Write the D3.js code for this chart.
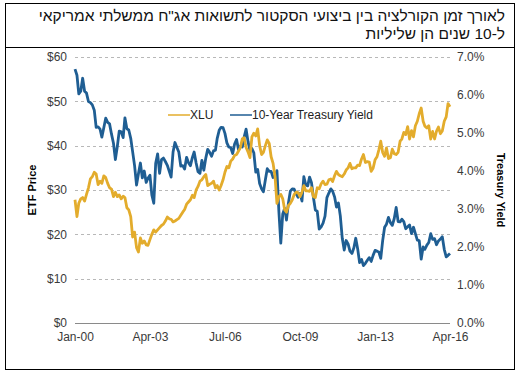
<!DOCTYPE html>
<html>
<head>
<meta charset="utf-8">
<script src="https://cdn.jsdelivr.net/npm/d3@7"></script>
<style>
  body { margin: 0; background: #fff; }
  text { font-family: "Liberation Sans", Arial, sans-serif; }
</style>
</head>
<body>
<script>
// monthly series, Jan 2000 .. Apr 2016
const startMonth = new Date(2000, 0, 1);

const xluPrice = [
  27.8, 24.0, 27.0, 28.0, 28.3, 27.5, 29.0, 30.5, 32.5, 33.0, 34.0, 33.6,
  31.2, 32.0, 31.5, 33.2, 32.8, 31.5, 30.5, 30.2, 28.5, 29.5, 28.5, 28.9,
  28.0, 28.6, 28.3, 26.0, 25.5, 24.0, 19.4, 20.5, 17.0, 16.0, 19.2, 18.0,
  18.5, 17.6, 17.5, 18.8, 20.0, 21.0, 20.5, 21.0, 21.5, 22.0, 22.3, 23.0,
  23.9, 23.5, 23.4, 22.8, 23.0, 23.3, 23.6, 24.3, 25.0, 25.6, 26.8, 27.3,
  27.8, 28.8, 28.3, 30.0, 30.8, 32.0, 32.3, 33.0, 33.5, 31.0, 31.3, 31.5,
  32.0, 30.5, 31.0, 30.0, 31.0, 32.3, 34.0, 35.3, 35.0, 36.5, 37.0, 37.8,
  38.0, 38.8, 39.5, 41.5, 41.8, 39.6, 38.6, 37.3, 42.0, 42.8, 42.2, 43.8,
  40.0, 38.0, 38.5, 40.0, 41.3, 40.5, 37.5, 36.0, 33.0, 27.0, 28.5, 29.0,
  28.0, 25.5, 25.0, 26.5, 27.0, 27.8, 29.0, 29.5, 29.4, 28.5, 29.5, 31.0,
  29.8, 29.8, 29.7, 30.5, 28.5, 28.3, 30.5, 30.3, 31.4, 32.0, 31.2, 31.3,
  32.3, 32.5, 31.9, 33.2, 34.2, 33.5, 33.2, 33.0, 33.6, 34.5, 35.0, 36.0,
  34.8, 35.0, 35.0, 35.6, 35.5, 37.0, 38.0, 36.2, 36.4, 36.3, 34.2, 34.9,
  36.8, 37.5, 39.0, 41.0, 38.5, 37.6, 39.5, 37.1, 37.3, 39.2, 38.2, 38.0,
  38.5, 41.0, 41.5, 43.0, 42.5, 44.3, 41.5, 43.4, 42.0, 44.5, 45.5, 47.2,
  48.5, 45.5, 44.4, 44.0, 44.5, 41.5, 43.2, 41.5, 43.3, 44.2, 42.7, 43.3,
  45.5, 46.5, 49.5, 48.8
];

const treasuryYield = [
  6.68, 6.52, 6.03, 6.10, 6.44, 6.10, 6.05, 5.83, 5.80, 5.74, 5.60, 5.15,
  5.16, 5.10, 4.89, 5.14, 5.39, 5.28, 5.24, 4.97, 4.73, 4.30, 4.65, 5.05,
  5.03, 4.88, 5.40, 5.11, 5.08, 4.86, 4.51, 4.14, 3.63, 3.93, 4.21, 3.82,
  4.00, 3.70, 3.81, 3.89, 3.37, 3.15, 4.20, 4.45, 3.94, 4.30, 4.34, 4.25,
  4.15, 3.99, 3.84, 4.50, 4.75, 4.62, 4.50, 4.13, 4.14, 4.05, 4.36, 4.22,
  4.14, 4.36, 4.50, 4.21, 3.98, 3.94, 4.28, 4.02, 4.34, 4.57, 4.49, 4.39,
  4.53, 4.55, 4.86, 5.07, 5.15, 5.14, 4.99, 4.74, 4.63, 4.61, 4.46, 4.71,
  4.83, 4.56, 4.65, 4.63, 4.89, 5.10, 4.78, 4.54, 4.59, 4.48, 3.97, 4.04,
  3.67, 3.53, 3.45, 3.77, 4.06, 3.99, 3.99, 3.83, 3.85, 4.01, 2.93, 2.10,
  2.87, 3.02, 2.71, 3.16, 3.47, 3.53, 3.52, 3.40, 3.31, 3.41, 3.21, 3.85,
  3.63, 3.61, 3.84, 3.69, 3.31, 2.97, 2.94, 2.47, 2.53, 2.63, 2.81, 3.30,
  3.42, 3.53, 3.47, 3.32, 3.05, 3.16, 2.82, 2.23, 1.92, 2.17, 2.08, 1.89,
  1.83, 1.98, 2.23, 1.95, 1.59, 1.67, 1.51, 1.57, 1.65, 1.72, 1.62, 1.78,
  1.91, 1.89, 1.87, 1.70, 2.16, 2.52, 2.60, 2.78, 2.64, 2.57, 2.75, 3.04,
  2.67, 2.66, 2.73, 2.67, 2.48, 2.53, 2.58, 2.35, 2.52, 2.35, 2.18, 2.17,
  1.68, 2.00, 1.94, 2.05, 2.12, 2.35, 2.20, 2.22, 2.06, 2.16, 2.21, 2.27,
  1.94, 1.74, 1.78, 1.83
];

const xTickLabels = ["Jan-00", "Apr-03", "Jul-06", "Oct-09", "Jan-13", "Apr-16"];
const leftTicks = [0, 10, 20, 30, 40, 50, 60];
const rightTicks = [0, 1, 2, 3, 4, 5, 6, 7];
const titleLines = [
  "לאורך זמן הקורלציה בין ביצועי הסקטור לתשואות אג\"ח ממשלתי אמריקאי",
  "ל-10 שנים הן שליליות"
];

const width = 520, height = 376;
const margin = {top: 57, right: 70, bottom: 53, left: 75};
const chartWidth = width - margin.left - margin.right;
const chartHeight = height - margin.top - margin.bottom;

const gold = "#e3ac2c", blue = "#1f5e93";

const dates = xluPrice.map((_, i) => d3.timeMonth.offset(startMonth, i));
const tickDates = xTickLabels.map((_, i) => d3.timeMonth.offset(startMonth, i * 39));

const x = d3.scaleTime()
    .domain([startMonth, tickDates[tickDates.length - 1]])
    .range([0, chartWidth]);
const yLeft = d3.scaleLinear().domain([0, 60]).range([chartHeight, 0]);
const yRight = d3.scaleLinear().domain([0, 7]).range([chartHeight, 0]);

const svg = d3.select("body").append("svg")
    .attr("width", width)
    .attr("height", height);

// frame
svg.append("rect")
    .attr("x", 5.5).attr("y", 3.5)
    .attr("width", 509).attr("height", 366)
    .attr("fill", "none").attr("stroke", "#000").attr("stroke-width", 1);
svg.append("line")
    .attr("x1", 5).attr("x2", 515).attr("y1", 47.5).attr("y2", 47.5)
    .attr("stroke", "#000");

svg.selectAll(".title")
    .data(titleLines)
    .enter().append("text")
    .attr("class", "title")
    .attr("x", 505)
    .attr("y", (d, i) => 21 + i * 18)
    .attr("direction", "rtl")
    .attr("text-anchor", "start")
    .style("font-size", "15.5px")
    .attr("fill", "#111")
    .text(d => d);

const g = svg.append("g")
    .attr("transform", "translate(" + margin.left + "," + margin.top + ")");

// gridlines
g.selectAll(".grid")
    .data(leftTicks.filter(d => d > 0))
    .enter().append("line")
    .attr("class", "grid")
    .attr("x1", 0).attr("x2", chartWidth)
    .attr("y1", d => Math.round(yLeft(d)) + 0.5)
    .attr("y2", d => Math.round(yLeft(d)) + 0.5)
    .attr("stroke", "#b8b8b8")
    .attr("stroke-dasharray", "3,3");

g.append("line")
    .attr("x1", 0).attr("x2", chartWidth)
    .attr("y1", chartHeight + 0.5).attr("y2", chartHeight + 0.5)
    .attr("stroke", "#8a8a8a");

// axes
const axisLeft = g.append("g")
    .call(d3.axisLeft(yLeft).tickValues(leftTicks).tickSize(0).tickPadding(8)
        .tickFormat(d => "$" + d));
const axisRight = g.append("g")
    .attr("transform", "translate(" + chartWidth + ",0)")
    .call(d3.axisRight(yRight).tickValues(rightTicks).tickSize(0).tickPadding(7)
        .tickFormat(d => d.toFixed(1) + "%"));
const axisBottom = g.append("g")
    .attr("transform", "translate(0," + chartHeight + ")")
    .call(d3.axisBottom(x).tickValues(tickDates).tickSize(0).tickPadding(9)
        .tickFormat((d, i) => xTickLabels[i]));

[axisLeft, axisRight, axisBottom].forEach(a => {
    a.select(".domain").remove();
    a.selectAll("text")
        .style("font-size", "12px")
        .style("font-family", "'Liberation Sans', Arial, sans-serif")
        .attr("fill", "#3a3a3a");
});

svg.append("text")
    .attr("transform", "translate(36," + (margin.top + chartHeight / 2) + ") rotate(-90)")
    .attr("text-anchor", "middle")
    .style("font-size", "11px")
    .style("font-weight", "bold")
    .text("ETF Price");

svg.append("text")
    .attr("transform", "translate(497," + (margin.top + chartHeight / 2) + ") rotate(90)")
    .attr("text-anchor", "middle")
    .style("font-size", "11px")
    .style("font-weight", "bold")
    .text("Treasury Yield");

// lines
const xluLine = d3.line()
    .x((d, i) => x(dates[i]))
    .y(d => yLeft(d));
const yieldLine = d3.line()
    .x((d, i) => x(dates[i]))
    .y(d => yRight(d));

g.append("path")
    .attr("d", yieldLine(treasuryYield))
    .attr("fill", "none")
    .attr("stroke", blue)
    .attr("stroke-width", 2.8)
    .attr("stroke-linejoin", "round");

g.append("path")
    .attr("d", xluLine(xluPrice))
    .attr("fill", "none")
    .attr("stroke", gold)
    .attr("stroke-width", 2.8)
    .attr("stroke-linejoin", "round");

// legend
const legendItems = [
    {label: "XLU", color: gold, x: 168},
    {label: "10-Year Treasury Yield", color: blue, x: 230}
];
const legend = svg.selectAll(".legend")
    .data(legendItems)
    .enter().append("g")
    .attr("class", "legend")
    .attr("transform", d => "translate(" + d.x + ",115)");
legend.append("line")
    .attr("x1", 0).attr("x2", 22)
    .attr("stroke", d => d.color)
    .attr("stroke-width", 1.5);
legend.append("text")
    .attr("x", 22)
    .attr("dy", "0.35em")
    .style("font-size", "12px")
    .attr("fill", "#222")
    .text(d => d.label);
</script>
</body>
</html>
